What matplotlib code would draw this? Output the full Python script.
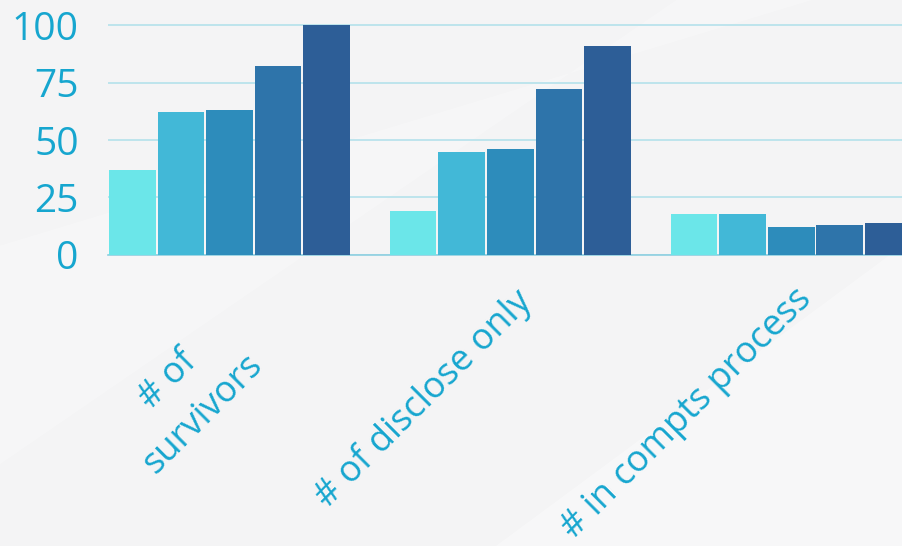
import numpy as np
import matplotlib.pyplot as plt
from matplotlib.patches import Polygon

categories = ["# of\nsurvivors", "# of disclose only", "# in compts process"]
series = [
    [37, 19, 18],
    [62, 45, 18],
    [63, 46, 12],
    [82, 72, 13],
    [100, 91, 14],
]
colors = ["#6be6e9", "#42b8d7", "#2d8cbb", "#2e74aa", "#2d5e97"]
yticks = [0, 25, 50, 75, 100]

# label anchor offsets in points (top-right corner of rotated text)
label_off = [(-14, -42), (2, -20), (2, -19)]

txt = "#16a6cf"
plt.rcParams['font.family'] = ['Open Sans', 'DejaVu Sans']

fig = plt.figure(figsize=(9.02, 5.46), dpi=100)
fig.patch.set_facecolor("#f4f4f5")
# faint diagonal sheen in the background
fig.patches.append(Polygon([[0.0, 0.15], [0.0, 0.55], [0.9, 1.0], [0.75, 1.0]],
                           closed=True, transform=fig.transFigure,
                           facecolor="white", alpha=0.25, edgecolor="none", zorder=-1))
fig.patches.append(Polygon([[0.55, 0.0], [1.0, 0.0], [1.0, 0.55]],
                           closed=True, transform=fig.transFigure,
                           facecolor="white", alpha=0.35, edgecolor="none", zorder=-1))

ax = fig.add_axes([0.1197, 0.533, 0.8803, 0.438])
ax.set_facecolor("none")

group_pos = np.arange(len(categories)) * 5.78
w = 0.96
for i, vals in enumerate(series):
    ax.bar(group_pos + (i - 2), vals, w, color=colors[i], zorder=3)

ax.set_xlim(-2.5, 13.84)
ax.set_ylim(0, 104)
ax.set_yticks(yticks)
ax.set_yticklabels([str(v) for v in yticks], color=txt, fontsize=28)
ax.tick_params(axis="y", length=0, pad=21)
ax.set_xticks([])
ax.grid(axis="y", color="#b4e1eb", linewidth=1.2, zorder=0)
for s in ["top", "right", "left"]:
    ax.spines[s].set_visible(False)
ax.spines["bottom"].set_color("#8fcfe0")
ax.spines["bottom"].set_linewidth(1.2)

for x, lab, off in zip(group_pos, categories, label_off):
    ax.annotate(lab, xy=(x, 0), xycoords="data", xytext=off, textcoords="offset points",
                ha="right", va="top", rotation=45, rotation_mode="anchor",
                multialignment="center", linespacing=1.45,
                color=txt, fontsize=26, annotation_clip=False)

plt.savefig("out.png", dpi=100, facecolor=fig.get_facecolor())
